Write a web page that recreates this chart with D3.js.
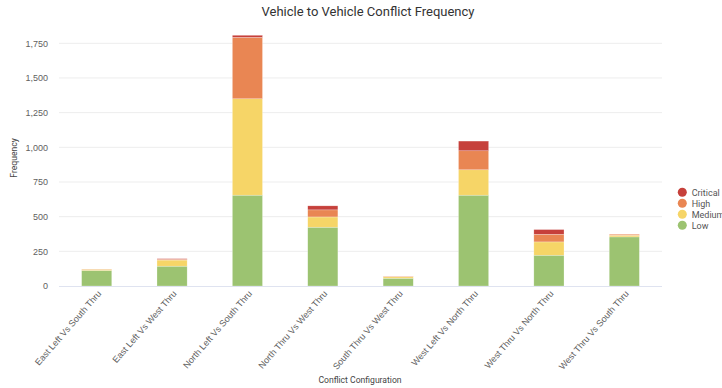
<!DOCTYPE html>
<html>
<head>
<meta charset="utf-8">
<script src="https://cdn.jsdelivr.net/npm/d3@7"></script>
<style>
  html, body { margin: 0; padding: 0; background: #fff; }
  svg { display: block; font-family: Roboto, "Noto Sans", sans-serif; }
</style>
</head>
<body>
<svg id="chart" width="722" height="388"></svg>
<script>
// Conflict configurations (x categories)
const categories = [
  "East Left Vs South Thru",
  "East Left Vs West Thru",
  "North Left Vs South Thru",
  "North Thru Vs West Thru",
  "South Thru Vs West Thru",
  "West Left Vs North Thru",
  "West Thru Vs North Thru",
  "West Thru Vs South Thru"
];

// Severity series, stacked bottom to top
const severities = ["Low", "Medium", "High", "Critical"];
const lowValues      = [112, 143, 655, 424, 56, 655, 222, 354];
const mediumValues   = [8,   44,  695, 74,  10, 183, 96,  12];
const highValues     = [2,   6,   443, 51,  4,  137, 55,  7];
const criticalValues = [0,   4,   15,  29,  0,  70,  34,  0];

const seriesColors = ["#9cc371", "#f6d567", "#e98653", "#c6403b"];
const yTicks = [0, 250, 500, 750, 1000, 1250, 1500, 1750];

const rows = categories.map((c, i) => ({
  category: c,
  Low: lowValues[i],
  Medium: mediumValues[i],
  High: highValues[i],
  Critical: criticalValues[i]
}));

const svg = d3.select("#chart");
const plotLeft = 59, plotRight = 662, plotBottom = 286, plotTopValue = 43.3;

const x = d3.scaleBand()
  .domain(categories)
  .range([plotLeft, plotRight])
  .paddingInner(0.6)
  .paddingOuter(0.3);

const y = d3.scaleLinear()
  .domain([0, 1750])
  .range([plotBottom, plotTopValue]);

const color = d3.scaleOrdinal().domain(severities).range(seriesColors);

// Gridlines
svg.append("g")
  .selectAll("line")
  .data(yTicks.filter(t => t > 0))
  .join("line")
  .attr("x1", plotLeft)
  .attr("x2", plotRight)
  .attr("y1", d => y(d))
  .attr("y2", d => y(d))
  .attr("stroke", "#ededed")
  .attr("stroke-width", 1);

// Y axis labels
const yAxis = svg.append("g")
  .attr("transform", `translate(${plotLeft},0)`)
  .call(d3.axisLeft(y).tickValues(yTicks).tickFormat(d3.format(",")).tickSize(0).tickPadding(11));
yAxis.select(".domain").remove();
yAxis.selectAll("text")
  .attr("fill", "#5f5f5f")
  .style("font-size", "9px");

// Stacked bars
const layers = d3.stack().keys(severities)(rows);

svg.append("g")
  .selectAll("g")
  .data(layers)
  .join("g")
  .attr("fill", d => color(d.key))
  .selectAll("rect")
  .data(d => d)
  .join("rect")
  .attr("x", d => x(d.data.category))
  .attr("width", x.bandwidth())
  .attr("y", d => y(d[1]))
  .attr("height", d => Math.max(0, y(d[0]) - y(d[1])))
  .attr("stroke", "#ffffff")
  .attr("stroke-opacity", 0.5)
  .attr("stroke-width", 0.5);

// Baseline
svg.append("line")
  .attr("x1", plotLeft)
  .attr("x2", plotRight)
  .attr("y1", y(0) + 0.5)
  .attr("y2", y(0) + 0.5)
  .attr("stroke", "#dfe3f0")
  .attr("stroke-width", 1.2);

// X axis labels, rotated
const xAxis = svg.append("g")
  .attr("transform", `translate(0,${plotBottom})`)
  .call(d3.axisBottom(x).tickSize(0).tickPadding(0));
xAxis.select(".domain").remove();
xAxis.selectAll("text")
  .attr("fill", "#5f5f5f")
  .style("font-size", "9px")
  .attr("text-anchor", "end")
  .attr("dy", null)
  .attr("y", 0)
  .attr("transform", "translate(5,8) rotate(-49)");

// Title
svg.append("text")
  .attr("x", 368)
  .attr("y", 16)
  .attr("text-anchor", "middle")
  .attr("fill", "#333")
  .style("font-size", "13px")
  .text("Vehicle to Vehicle Conflict Frequency");

// Axis titles
svg.append("text")
  .attr("transform", "translate(17,158) rotate(-90)")
  .attr("text-anchor", "middle")
  .attr("fill", "#444")
  .style("font-size", "8.6px")
  .text("Frequency");

svg.append("text")
  .attr("x", 360)
  .attr("y", 383)
  .attr("text-anchor", "middle")
  .attr("fill", "#444")
  .style("font-size", "8.6px")
  .text("Conflict Configuration");

// Legend, top series first
const legend = svg.append("g")
  .selectAll("g")
  .data(severities.slice().reverse())
  .join("g")
  .attr("transform", (d, i) => `translate(682.3,${192.3 + i * 11})`);
legend.append("circle")
  .attr("r", 4.5)
  .attr("fill", d => color(d));
legend.append("text")
  .attr("x", 9.4)
  .attr("y", 3.2)
  .attr("fill", "#555")
  .style("font-size", "9px")
  .text(d => d);
</script>
</body>
</html>
